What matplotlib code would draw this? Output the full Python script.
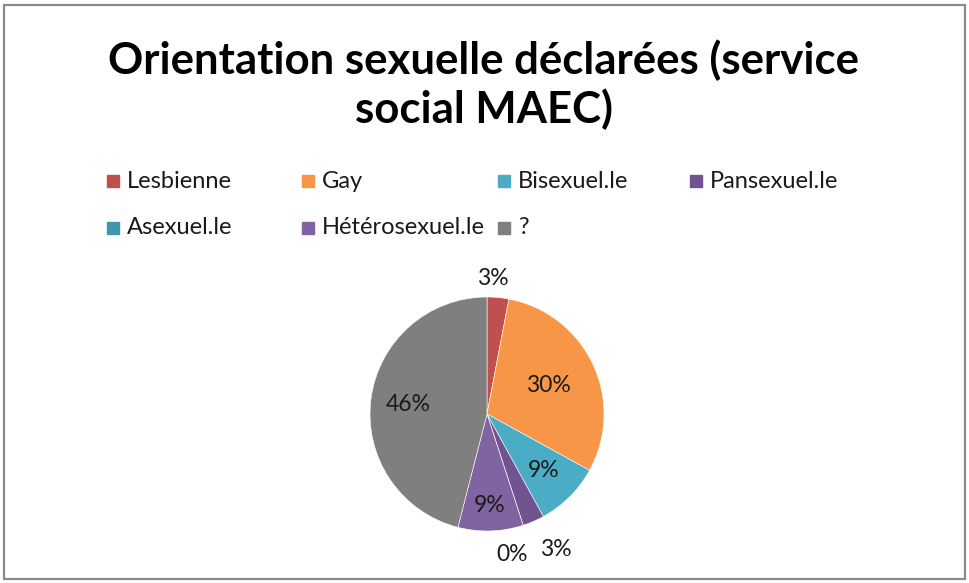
import matplotlib.pyplot as plt
from matplotlib.patches import Rectangle
import numpy as np

# donnees
categories = ['Lesbienne', 'Gay', 'Bisexuel.le', 'Pansexuel.le', 'Asexuel.le', 'Hétérosexuel.le', '?']
pourcentages = [3, 30, 9, 3, 0, 9, 46]
couleurs = ['#C0504D', '#F79646', '#4BACC6', '#6F5491', '#3F97AE', '#8064A2', '#7F7F7F']
titre = 'Orientation sexuelle déclarées (service\nsocial MAEC)'

# placement des etiquettes : distance (fraction du rayon) et decalage angulaire (degres, sens horaire)
dist_etiq = [1.16, 0.58, 0.68, 1.30, 1.22, 0.78, 0.68]
decal_etiq = [-3, 0, 0, -3.5, 8, 0, 0]

plt.rcParams['font.family'] = ['Lato', 'DejaVu Sans']

W, H = 969, 583
fig = plt.figure(figsize=(W / 100, H / 100), dpi=100)

# cadre
fig.patches.append(Rectangle((4 / W, 4 / H), 961 / W, 574 / H, transform=fig.transFigure,
                             fill=False, edgecolor='#8A8A8A', linewidth=1.6))

# titre
fig.text(484 / W, 1 - 85 / H, titre, ha='center', va='center', fontsize=31.5,
         fontweight='bold', linespacing=1.22)

# legende manuelle (colonnes de largeur egale comme Excel)
col_x = [107, 302, 498, 690]
row_y = [181, 228]
for i, (lab, c) in enumerate(zip(categories, couleurs)):
    r, k = divmod(i, 4)
    x, y = col_x[k], row_y[r]
    fig.patches.append(Rectangle((x / W, 1 - (y + 6) / H), 12 / W, 12 / H,
                                 transform=fig.transFigure, color=c))
    fig.text((x + 20) / W, 1 - y / H, lab, ha='left', va='center', fontsize=17, color='#1a1a1a')

# camembert
cx, cy, R = 487, 414, 117
ax = fig.add_axes([(cx - R) / W, (H - cy - R) / H, 2 * R / W, 2 * R / H])
wedges, _ = ax.pie(pourcentages, colors=couleurs, startangle=90, counterclock=False,
                   wedgeprops=dict(edgecolor='white', linewidth=0.4))
ax.set_xlim(-1, 1)
ax.set_ylim(-1, 1)
ax.set_aspect('equal')

for w, p, d, da in zip(wedges, pourcentages, dist_etiq, decal_etiq):
    ang = np.deg2rad((w.theta1 + w.theta2) / 2 - da)
    ax.text(d * np.cos(ang), d * np.sin(ang), f'{p}%', ha='center', va='center',
            fontsize=16.5, color='#1a1a1a', clip_on=False)

fig.savefig('out.png', dpi=100)
